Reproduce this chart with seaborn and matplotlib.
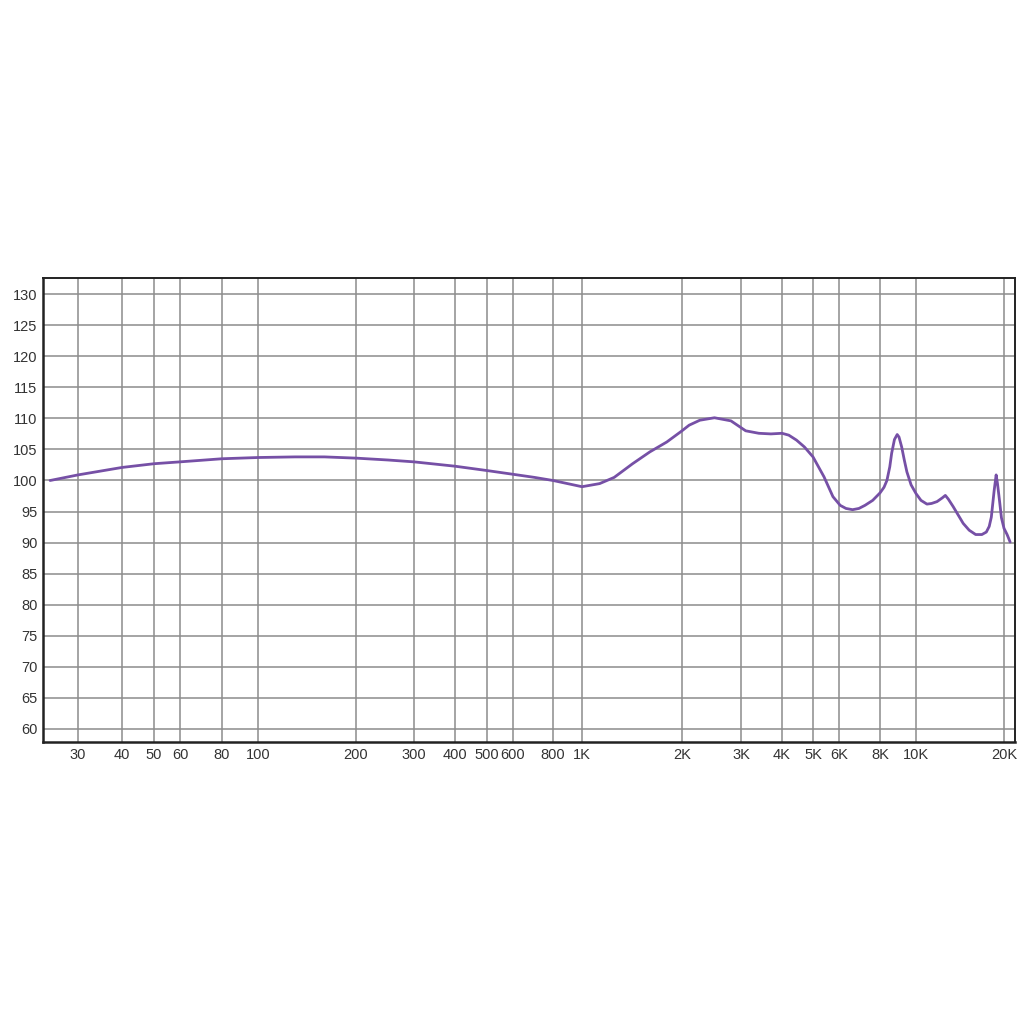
import matplotlib
matplotlib.use("Agg")
import matplotlib.pyplot as plt
import numpy as np
import seaborn as sns

# frequency response (Hz, dB)
freq = [25, 30, 40, 50, 60, 80, 100, 130, 160, 200, 250, 300, 400, 500, 600,
        700, 800, 1000, 1130, 1250, 1420, 1600, 1800, 2000, 2100, 2260, 2500,
        2800, 3100, 3400, 3700, 4000, 4200, 4440, 4700, 5000, 5400, 5750,
        6050, 6300, 6600, 6900, 7200, 7600, 8000, 8200, 8350, 8500, 8600,
        8750, 8900, 9000, 9150, 9300, 9450, 9700, 10000, 10400, 10900, 11300,
        11800, 12300, 12600, 12900, 13400, 14000, 14500, 15200, 16000, 16800,
        17400, 17800, 18100, 18500, 18800, 19000, 19300, 19600, 20000, 20500,
        21000]
spl = [100.0, 100.9, 102.1, 102.7, 103.0, 103.5, 103.7, 103.8, 103.8, 103.6,
       103.3, 103.0, 102.3, 101.6, 101.0, 100.5, 100.0, 99.0, 99.5, 100.5,
       102.7, 104.6, 106.2, 108.0, 108.9, 109.7, 110.1, 109.6, 108.0, 107.6,
       107.5, 107.6, 107.3, 106.5, 105.4, 103.8, 100.6, 97.4, 96.0, 95.5,
       95.3, 95.5, 96.0, 96.8, 98.0, 98.9, 100.0, 102.2, 104.4, 106.6, 107.4,
       107.0, 105.4, 103.3, 101.4, 99.3, 97.9, 96.8, 96.2, 96.3, 96.6, 97.2,
       97.6, 97.0, 95.8, 94.3, 93.1, 92.0, 91.3, 91.3, 91.7, 92.6, 94.1,
       98.3, 100.9, 99.5, 96.8, 94.0, 92.3, 91.3, 90.1]

x_ticks = [30, 40, 50, 60, 80, 100, 200, 300, 400, 500, 600, 800,
           1000, 2000, 3000, 4000, 5000, 6000, 8000, 10000, 20000]
x_labels = ["30", "40", "50", "60", "80", "100", "200", "300", "400", "500", "600", "800",
            "1K", "2K", "3K", "4K", "5K", "6K", "8K", "10K", "20K"]
y_ticks = list(range(60, 131, 5))

# the reference's frequency axis is not a clean log scale,
# so calibrate it against where its grid lines sit (pixels)
cal_f = np.array([20, 30, 40, 50, 60, 80, 100, 200, 300, 400, 500, 600, 800,
                  1000, 2000, 3000, 4000, 5000, 6000, 8000, 10000, 20000, 25000])
cal_px = np.array([16, 78, 122, 154, 180, 222, 258, 356, 414, 455, 487, 513, 553,
                   582, 682, 741, 782, 813, 839, 880, 916, 1004, 1032])


def fwd(f):
    f = np.clip(np.asarray(f, dtype=float), 1e-3, None)
    return np.interp(np.log10(f), np.log10(cal_f), cal_px)


def inv(p):
    return 10 ** np.interp(np.asarray(p, dtype=float), cal_px, np.log10(cal_f))


sns.set_style("white")
plt.rcParams['font.family'] = ['Liberation Sans', 'DejaVu Sans']

fig = plt.figure(figsize=(10.24, 10.24), dpi=100)
ax = fig.add_axes([43 / 1024, 1 - 742 / 1024, 972 / 1024, 464 / 1024])

ax.set_xscale("function", functions=(fwd, inv))
sns.lineplot(x=freq, y=spl, ax=ax, color="#7650a6", linewidth=2.0)

ax.set_xlim(float(inv(43)), float(inv(1015)))
ax.set_ylim(57.9, 132.6)
ax.set_xticks(x_ticks)
ax.set_xticklabels(x_labels)
ax.minorticks_off()
ax.set_yticks(y_ticks)
ax.tick_params(length=0, labelsize=10.5, colors="#333333", pad=4)

ax.grid(True, color="#8c8c8c", linewidth=1.1)
ax.set_axisbelow(True)
for s in ax.spines.values():
    s.set_color("#222222")
    s.set_linewidth(1.4)
ax.spines["left"].set_linewidth(1.8)
ax.spines["bottom"].set_linewidth(1.8)

fig.savefig("out.png", dpi=100, facecolor="white")
